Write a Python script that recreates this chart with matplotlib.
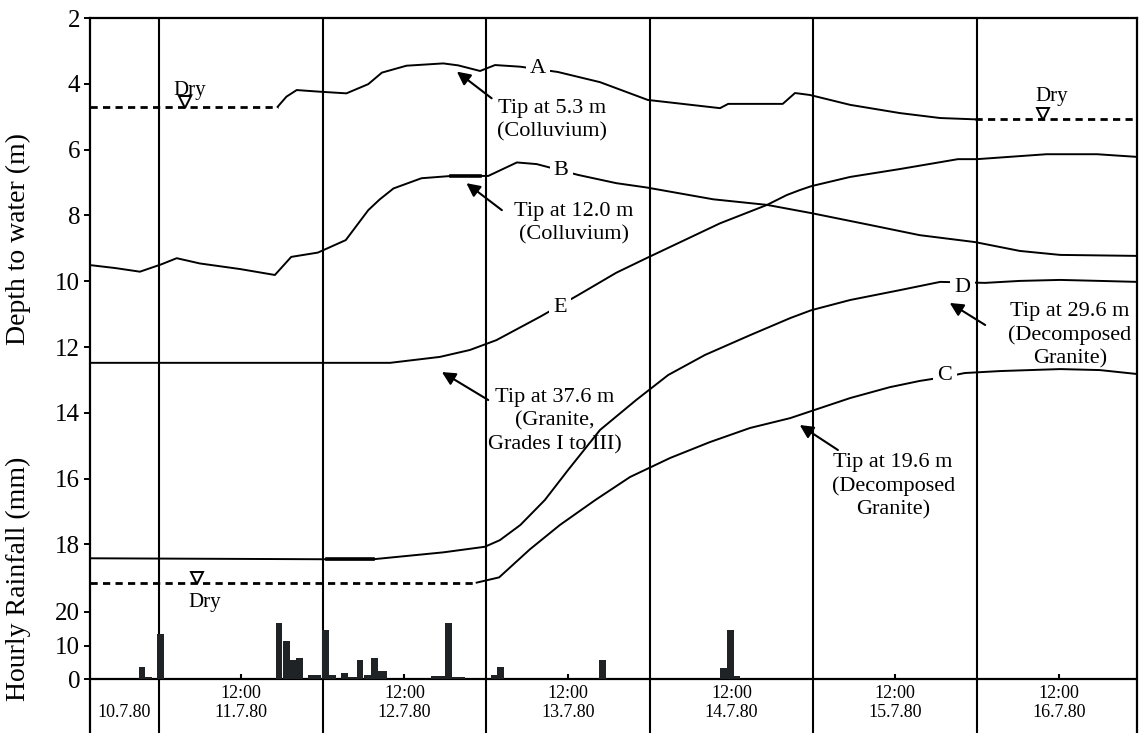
import matplotlib
matplotlib.use("Agg")
import matplotlib.pyplot as plt

plt.rcParams["font.family"] = ["Liberation Serif", "DejaVu Serif"]

# time axis: hours since 10.7.80 00:00, depth in metres below ground
dates = ["10.7.80", "11.7.80", "12.7.80", "13.7.80", "14.7.80", "15.7.80", "16.7.80"]

a_t = [41.4, 42.7, 44.2, 47.6, 51.5, 54.7, 56.7, 60.3, 65.7, 67.9, 71.1, 73.3, 77.0,
       82.5, 88.7, 95.7, 106.3, 107.5, 115.5, 117.3, 119.5, 125.4, 132.7, 138.6, 143.7]
a_d = [4.70, 4.39, 4.19, 4.24, 4.29, 4.01, 3.66, 3.45, 3.38, 3.44, 3.61, 3.43, 3.48,
       3.64, 3.95, 4.49, 4.74, 4.61, 4.61, 4.28, 4.34, 4.64, 4.89, 5.04, 5.08]

b_t = [13.9, 17.6, 21.2, 24.3, 26.6, 30.0, 35.9, 41.0, 43.4, 47.3, 51.4, 54.7, 56.4,
       58.4, 62.5, 66.9, 71.1, 72.3, 76.5, 79.4, 85.5, 91.1, 95.5, 105.3, 113.2, 119.7,
       128.3, 135.6, 143.7, 150.3, 156.2, 167.5]
b_d = [9.51, 9.60, 9.71, 9.49, 9.30, 9.46, 9.63, 9.81, 9.26, 9.13, 8.75, 7.84, 7.51,
       7.18, 6.87, 6.80, 6.80, 6.80, 6.39, 6.44, 6.77, 7.02, 7.15, 7.51, 7.68, 7.93,
       8.29, 8.60, 8.81, 9.08, 9.20, 9.23]

c_t = [70.6, 73.9, 78.4, 82.8, 88.0, 93.1, 99.0, 104.8, 110.7, 116.6, 120.2, 125.4,
       131.2, 135.6, 139.3, 142.2, 147.4, 156.2, 162.0, 167.5]
c_d = [19.16, 19.00, 18.15, 17.41, 16.65, 15.95, 15.37, 14.89, 14.46, 14.16, 13.91,
       13.55, 13.22, 13.03, 12.91, 12.79, 12.73, 12.67, 12.70, 12.82]

d_t = [13.9, 48.6, 55.4, 65.7, 71.8, 74.0, 77.0, 80.6, 84.0, 88.7, 94.0, 98.7, 104.1,
       110.7, 116.6, 119.7, 125.4, 132.7, 138.6, 145.2, 150.3, 156.2, 162.0, 167.5]
d_d = [18.42, 18.45, 18.45, 18.24, 18.07, 17.87, 17.41, 16.65, 15.74, 14.52, 13.61,
       12.85, 12.24, 11.64, 11.12, 10.88, 10.57, 10.27, 10.02, 10.05, 9.99, 9.96, 9.99, 10.02]

e_t = [13.9, 57.9, 65.2, 69.6, 73.5, 79.9, 85.5, 91.1, 95.5, 106.3, 113.2, 116.1,
       118.0, 119.7, 125.4, 132.7, 141.2, 144.0, 154.2, 161.6, 167.4]
e_d = [12.48, 12.48, 12.30, 12.09, 11.79, 11.08, 10.42, 9.74, 9.30, 8.24, 7.68, 7.38,
       7.23, 7.11, 6.83, 6.59, 6.29, 6.29, 6.14, 6.14, 6.22]

# dry periods (piezometer dry): level and time span
dry_a_level, dry_a_t = 4.70, [13.9, 41.4]
dry_a2_level, dry_a2_t = 5.08, [143.7, 167.5]
dry_c_level, dry_c_t = 19.16, [13.9, 70.6]

# hourly rainfall: start hour and mm
rain_t = [21.0, 22.0, 23.7, 41.1, 42.2, 43.2, 44.1, 45.8, 46.8, 47.9, 49.0, 50.7, 51.7,
          52.3, 53.0, 54.1, 55.1, 56.0, 56.5, 63.9, 64.9, 66.0, 66.9, 67.9, 72.7, 73.6,
          88.6, 106.3, 107.3, 108.3]
rain_mm = [3.7, 0.8, 13.4, 16.8, 11.4, 5.6, 6.3, 1.2, 1.2, 14.7, 1.2, 1.8, 0.6,
           0.6, 5.6, 1.2, 6.2, 2.4, 2.4, 0.9, 0.9, 16.6, 0.7, 0.7, 1.2, 3.5,
           5.6, 3.4, 14.7, 1.0]

depth_ticks = [2, 4, 6, 8, 10, 12, 14, 16, 18]
rain_ticks = [0, 10, 20]

W, H = 1140, 733
fig = plt.figure(figsize=(W / 100, H / 100), dpi=100)
x0, x1 = 13.88, 167.47

ax = fig.add_axes([90 / W, 0, (1137 - 90) / W, (H - 18) / H])
ax.set_xlim(x0, x1)
ax.set_ylim(23.73, 2)
for s in ["top", "left", "right"]:
    ax.spines[s].set_linewidth(1.6)
ax.spines["bottom"].set_visible(False)
ax.set_xticks([])
ax.set_yticks(depth_ticks)
ax.set_yticklabels([str(v) for v in depth_ticks])
ax.tick_params(axis="y", direction="out", length=4, width=1.4, labelsize=18, pad=3)

# day boundaries and rainfall baseline
ax.vlines([24 * i for i in range(1, 7)], 2, 23.73, color="black", lw=1.5)
base = 22.1
ax.axhline(base, color="black", lw=1.6)
ax.vlines([12 + 24 * i for i in range(1, 7)], base - 0.15, base, color="black", lw=1.5)

lw = 1.4
for t, d in [(a_t, a_d), (b_t, b_d), (c_t, c_d), (d_t, d_d), (e_t, e_d)]:
    ax.plot(t, d, color="black", lw=lw, solid_joinstyle="round")
# overlapping readings show up as heavier strokes
ax.plot(b_t[15:17], b_d[15:17], color="black", lw=2.6)
ax.plot(d_t[1:3], d_d[1:3], color="black", lw=2.6)

dash = (0, (2.6, 1.9))
for lev, span in [(dry_a_level, dry_a_t), (dry_a2_level, dry_a2_t), (dry_c_level, dry_c_t)]:
    ax.plot(span, [lev, lev], color="black", lw=2.0, linestyle=dash)

# "Dry" markers
for tx, ty, mx, my in [(28.5, 4.19, 27.8, 4.55), (155.0, 4.40, 153.7, 4.93),
                       (30.7, 19.75, 29.6, 19.02)]:
    ax.plot([mx], [my], marker="v", ms=8, mfc="white", mec="black", mew=1.4)
    ax.text(tx, ty, "Dry", ha="center", va="center", fontsize=15)

# curve letters with white background to cut the line
for lab, tx, ty in [("A", 79.6, 3.52), ("B", 83.0, 6.62), ("E", 82.8, 10.81),
                    ("D", 141.9, 10.18), ("C", 139.3, 12.88)]:
    ax.text(tx, ty, lab, ha="center", va="center", fontsize=16,
            bbox=dict(fc="white", ec="none", pad=3))

notes = [
    ("Tip at 5.3 m\n(Colluvium)", (81.6, 5.10), (67.7, 3.63), (72.8, 4.44)),
    ("Tip at 12.0 m\n(Colluvium)", (84.9, 8.25), (69.1, 7.02), (74.3, 7.84)),
    ("Tip at 37.6 m\n(Granite,\nGrades I to III)", (82.1, 14.25), (65.5, 12.76), (72.3, 13.61)),
    ("Tip at 19.6 m\n(Decomposed\nGranite)", (131.7, 16.22), (118.0, 14.37), (123.6, 15.13)),
    ("Tip at 29.6 m\n(Decomposed\nGranite)", (157.6, 11.64), (140.0, 10.66), (145.2, 11.33)),
]
for txt, (tx, ty), head, tail in notes:
    ax.text(tx, ty, txt, ha="center", va="center", fontsize=16, linespacing=1.3,
            multialignment="center")
    ax.annotate("", xy=head, xytext=tail,
                arrowprops=dict(arrowstyle="-|>", color="black", lw=1.5,
                                mutation_scale=20, shrinkA=0, shrinkB=0))

# date strip
for i, lab in enumerate(dates):
    mid = 12 + 24 * i
    if mid < x0:
        mid = (x0 + 24) / 2
    else:
        ax.text(mid, 22.52, "12:00", ha="center", va="center", fontsize=13)
    ax.text(mid, 23.12, lab, ha="center", va="center", fontsize=13)

ax.text(-0.068, 0.691, "Depth to water (m)", transform=ax.transAxes, rotation=90,
        ha="center", va="center", fontsize=20)

# rainfall on its own scale, sitting on the baseline
axr = fig.add_axes([90 / W, (H - 679.3) / H, (1137 - 90) / W, 84.5 / H])
axr.set_xlim(x0, x1)
axr.set_ylim(0, 25)
axr.patch.set_alpha(0)
for s in axr.spines.values():
    s.set_visible(False)
axr.set_xticks([])
axr.set_yticks(rain_ticks)
axr.tick_params(axis="y", direction="out", length=4, width=1.4, labelsize=18, pad=3)
axr.bar(rain_t, rain_mm, width=1.0, align="edge", color="#1f2326", edgecolor="none")

ax.text(-0.068, 0.215, "Hourly Rainfall (mm)", transform=ax.transAxes, rotation=90,
        ha="center", va="center", fontsize=20)

fig.savefig("out.png", dpi=100)
